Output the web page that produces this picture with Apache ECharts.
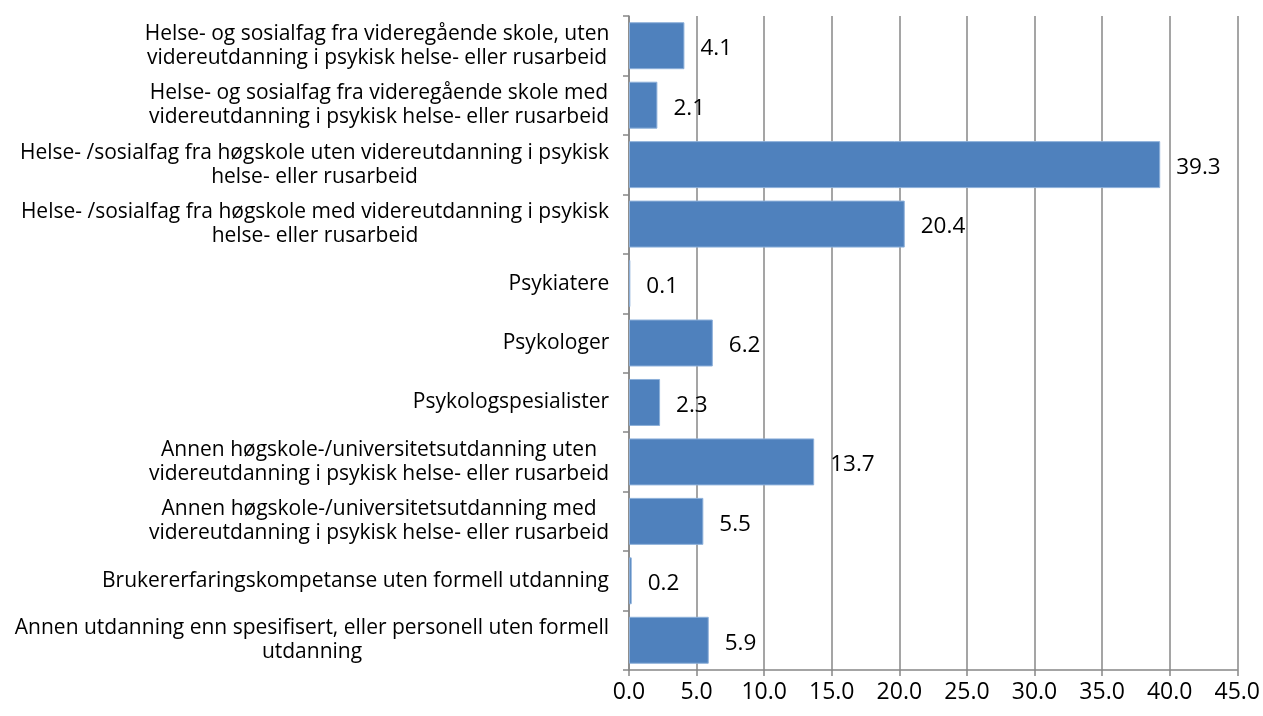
<!DOCTYPE html>
<html>
<head>
<meta charset="utf-8">
<script src="https://cdn.jsdelivr.net/npm/echarts@6/dist/echarts.min.js"></script>
<style>
html, body { margin: 0; padding: 0; background: #fff; }
#main { width: 1263px; height: 716px; }
</style>
</head>
<body>
<div id="main"></div>
<script>
// kategorier, ovenfra og ned slik de står i figuren
var categories = [
    'Helse- og sosialfag fra videregående skole, uten\nvidereutdanning i psykisk helse- eller rusarbeid',
    'Helse- og sosialfag fra videregående skole med\nvidereutdanning i psykisk helse- eller rusarbeid',
    'Helse- /sosialfag fra høgskole uten videreutdanning i psykisk\nhelse- eller rusarbeid',
    'Helse- /sosialfag fra høgskole med videreutdanning i psykisk\nhelse- eller rusarbeid',
    'Psykiatere',
    'Psykologer',
    'Psykologspesialister',
    'Annen høgskole-/universitetsutdanning uten\nvidereutdanning i psykisk helse- eller rusarbeid',
    'Annen høgskole-/universitetsutdanning med\nvidereutdanning i psykisk helse- eller rusarbeid',
    'Brukererfaringskompetanse uten formell utdanning',
    'Annen utdanning enn spesifisert, eller personell uten formell\nutdanning'
];
var values = [4.1, 2.1, 39.3, 20.4, 0.1, 6.2, 2.3, 13.7, 5.5, 0.2, 5.9];

var axisMin = 0;
var axisMax = 45;
var axisStep = 5;

var gray = '#878787';
var font = 'Open Sans';
var labelSize = 21;

// måler bredeste linje i hver etikett, så linjene kan midtstilles i blokken
var ctx = document.createElement('canvas').getContext('2d');
ctx.font = labelSize + 'px "' + font + '"';
var rich = {};
categories.forEach(function (c, i) {
    var w = 0;
    c.split('\n').forEach(function (s) {
        w = Math.max(w, ctx.measureText(s).width);
    });
    rich['c' + i] = {
        width: Math.ceil(w) + 1,
        align: 'center',
        fontFamily: font,
        fontSize: labelSize,
        lineHeight: 24,
        color: '#000'
    };
});

var myChart = echarts.init(document.getElementById('main'));

myChart.setOption({
    animation: false,
    grid: {
        left: 629,
        right: 23,
        top: 16,
        bottom: 46
    },
    xAxis: {
        type: 'value',
        min: axisMin,
        max: axisMax,
        interval: axisStep,
        axisLine: { show: true, lineStyle: { color: gray, width: 1.5 } },
        axisTick: { show: true, length: 6, lineStyle: { color: gray, width: 1.5 } },
        splitLine: { show: true, lineStyle: { color: gray, width: 1.5 } },
        axisLabel: {
            color: '#000',
            fontFamily: font,
            fontSize: 23,
            margin: 11,
            formatter: function (v) { return v.toFixed(1); }
        }
    },
    yAxis: {
        type: 'category',
        inverse: true,
        data: categories,
        axisLine: { show: true, lineStyle: { color: gray, width: 1.5 } },
        axisTick: { show: true, length: 6, lineStyle: { color: gray, width: 1.5 } },
        axisLabel: {
            margin: 19,
            fontFamily: font,
            fontSize: labelSize,
            lineHeight: 24,
            color: '#000',
            formatter: function (v, i) {
                return v.split('\n').map(function (s) { return '{c' + i + '|' + s + '}'; }).join('\n');
            },
            rich: rich
        }
    },
    series: [{
        type: 'bar',
        data: values,
        barCategoryGap: '21%',
        itemStyle: {
            color: '#4F81BD',
            borderColor: '#8DB0DA',
            borderWidth: 1
        },
        label: {
            show: true,
            position: 'right',
            distance: 16,
            offset: [0, 3],
            color: '#000',
            fontFamily: font,
            fontSize: 22.5,
            formatter: function (p) { return p.value.toFixed(1); }
        }
    }]
});
</script>
</body>
</html>
